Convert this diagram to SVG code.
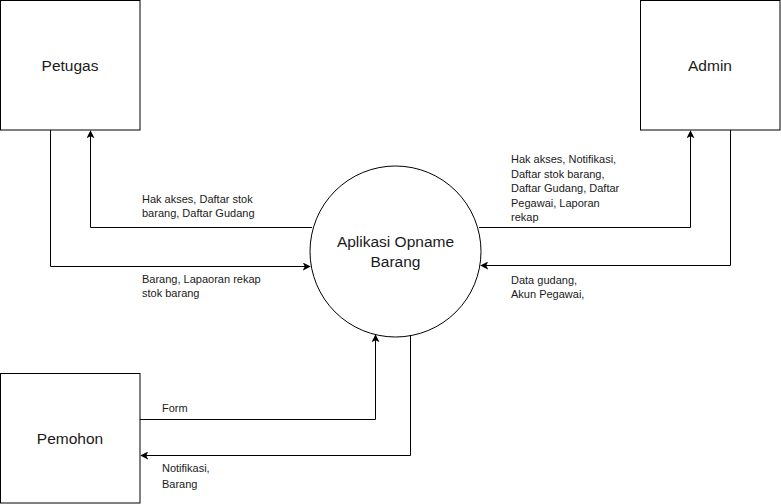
<svg xmlns="http://www.w3.org/2000/svg" width="781" height="504" viewBox="0 0 781 504">
<style>
.box{fill:#fff;stroke:#000;stroke-width:1}
.node{font-family:"Liberation Sans",Arial,sans-serif;font-size:15.5px;fill:#1a1a1a;text-anchor:middle}
.lbl{font-family:"Liberation Sans",Arial,sans-serif;font-size:11px;fill:#1a1a1a}
.edge{fill:none;stroke:#000;stroke-width:1}
</style>
<defs>
<marker id="arr" viewBox="0 0 10 10" refX="9" refY="5" markerWidth="8" markerHeight="8" markerUnits="userSpaceOnUse" orient="auto">
<path d="M0,0 L10,5 L0,10 L2.5,5 Z" fill="#000"/>
</marker>
</defs>
<rect width="781" height="504" fill="#fff"/>
<g id="petugas"><rect class="box" x="0.5" y="0.5" width="139.5" height="129.5"/><text class="node" x="70" y="71">Petugas</text></g>
<g id="admin"><rect class="box" x="640.5" y="0.5" width="139.5" height="129.5"/><text class="node" x="710" y="71">Admin</text></g>
<g id="pemohon"><rect class="box" x="0.5" y="373.5" width="139.5" height="129.5"/><text class="node" x="70" y="444">Pemohon</text></g>
<g id="aplikasi"><circle class="box" cx="395.5" cy="251.5" r="85.5"/><text class="node" x="395.5" y="247">Aplikasi Opname</text><text class="node" x="395.5" y="267">Barang</text></g>
<g id="connectors">
<path class="edge" d="M312,227.5 H90.5 V131" marker-end="url(#arr)"/>
<path class="edge" d="M50.5,130 V266.5 H310" marker-end="url(#arr)"/>
<path class="edge" d="M479,227.5 H690.5 V131" marker-end="url(#arr)"/>
<path class="edge" d="M730.5,130 V265.5 H481" marker-end="url(#arr)"/>
<path class="edge" d="M140,419.5 H375.5 V335" marker-end="url(#arr)"/>
<path class="edge" d="M410.5,335 V455.5 H141" marker-end="url(#arr)"/>
</g>
<g id="labels">
<text class="lbl" x="142" y="203">Hak akses, Daftar stok</text>
<text class="lbl" x="142" y="217">barang, Daftar Gudang</text>
<text class="lbl" x="142" y="283">Barang, Lapaoran rekap</text>
<text class="lbl" x="142" y="297">stok barang</text>
<text class="lbl" x="511" y="163">Hak akses, Notifikasi,</text>
<text class="lbl" x="511" y="177.5">Daftar stok barang,</text>
<text class="lbl" x="511" y="192">Daftar Gudang, Daftar</text>
<text class="lbl" x="511" y="206.5">Pegawai, Laporan</text>
<text class="lbl" x="511" y="221">rekap</text>
<text class="lbl" x="511" y="284">Data gudang,</text>
<text class="lbl" x="511" y="298">Akun Pegawai,</text>
<text class="lbl" x="162" y="412">Form</text>
<text class="lbl" x="162" y="472">Notifikasi,</text>
<text class="lbl" x="162" y="488">Barang</text>
</g>
</svg>
